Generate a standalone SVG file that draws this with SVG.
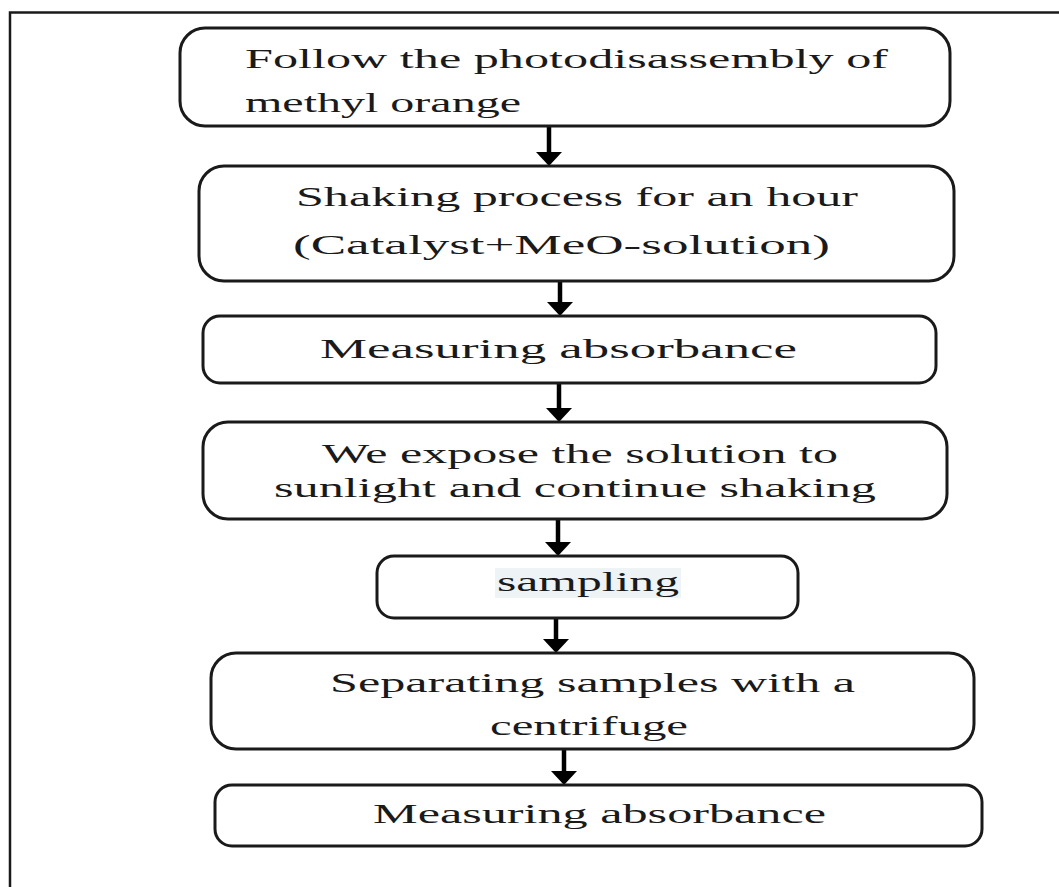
<svg xmlns="http://www.w3.org/2000/svg" width="1059" height="887" viewBox="0 0 1059 887">
<defs>
<style>
.box{fill:#fff;stroke:#1a1a1a;stroke-width:3}
.t{font-family:"Liberation Serif","Times New Roman",serif;font-size:28px;fill:#1a1a1a}
.c{stroke:#000;stroke-width:4.5;fill:none}
.h{fill:#000}
</style>
</defs>
<rect x="0" y="0" width="1059" height="887" fill="#fff"/>
<rect x="10" y="12.5" width="1060" height="890" fill="none" stroke="#1a1a1a" stroke-width="2.5"/>
<g id="connectors">
<line class="c" x1="549" y1="126" x2="549" y2="154"/><polygon class="h" points="536,152 562,152 549,166"/>
<line class="c" x1="560" y1="281" x2="560" y2="304"/><polygon class="h" points="547,302 573,302 560,316"/>
<line class="c" x1="559" y1="383" x2="559" y2="410"/><polygon class="h" points="546,408 572,408 559,422"/>
<line class="c" x1="558" y1="519" x2="558" y2="544"/><polygon class="h" points="545,542 571,542 558,556"/>
<line class="c" x1="556" y1="618" x2="556" y2="641"/><polygon class="h" points="543,639 569,639 556,653"/>
<line class="c" x1="564" y1="749" x2="564" y2="773"/><polygon class="h" points="551,771 577,771 564,785"/>
</g>
<g id="n1">
<rect class="box" x="180" y="28" width="770" height="98" rx="25"/>
<text class="t" x="245" y="68" textLength="643" lengthAdjust="spacingAndGlyphs">Follow the photodisassembly of</text>
<text class="t" x="245" y="112" textLength="276" lengthAdjust="spacingAndGlyphs">methyl orange</text>
</g>
<g id="n2">
<rect class="box" x="199" y="166" width="755" height="115" rx="25"/>
<text class="t" x="296" y="206" textLength="562" lengthAdjust="spacingAndGlyphs">Shaking process for an hour</text>
<text class="t" x="293" y="254" textLength="537" lengthAdjust="spacingAndGlyphs">(Catalyst+MeO-solution)</text>
</g>
<g id="n3">
<rect class="box" x="203" y="316" width="733" height="67" rx="17"/>
<text class="t" x="320" y="358" textLength="477" lengthAdjust="spacingAndGlyphs">Measuring absorbance</text>
</g>
<g id="n4">
<rect class="box" x="203" y="422" width="744" height="97" rx="25"/>
<text class="t" x="322" y="463" textLength="516" lengthAdjust="spacingAndGlyphs">We expose the solution to</text>
<text class="t" x="274" y="497" textLength="602" lengthAdjust="spacingAndGlyphs">sunlight and continue shaking</text>
</g>
<g id="n5">
<rect class="box" x="377" y="556" width="421" height="62" rx="17"/>
<rect x="495" y="568" width="186" height="30" fill="#eef3f6"/>
<text class="t" x="497" y="591" textLength="182" lengthAdjust="spacingAndGlyphs">sampling</text>
</g>
<g id="n6">
<rect class="box" x="211" y="653" width="763" height="96" rx="25"/>
<text class="t" x="330" y="692" textLength="525" lengthAdjust="spacingAndGlyphs">Separating samples with a</text>
<text class="t" x="490" y="735" textLength="198" lengthAdjust="spacingAndGlyphs">centrifuge</text>
</g>
<g id="n7">
<rect class="box" x="215" y="785" width="767" height="61" rx="17"/>
<text class="t" x="373" y="823" textLength="453" lengthAdjust="spacingAndGlyphs">Measuring absorbance</text>
</g>
</svg>
